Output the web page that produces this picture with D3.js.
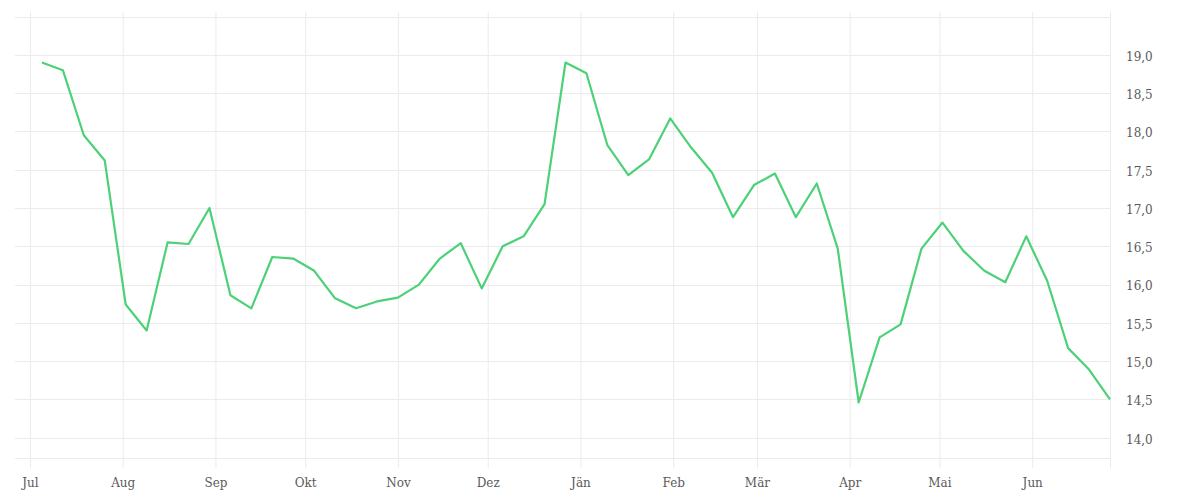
<!DOCTYPE html>
<html>
<head>
<meta charset="utf-8">
<script src="https://cdn.jsdelivr.net/npm/d3@7/dist/d3.min.js"></script>
<style>
  html, body { margin: 0; padding: 0; background: #fff; }
  svg { display: block; }
  .tick text { font-family: "DejaVu Serif", serif; font-size: 12px; fill: #5a5a5a; }
</style>
</head>
<body>
<svg id="chart" width="1200" height="500"></svg>
<script>
// ---- data ----
const startDate = "2024-07-05"; // first weekly observation
const values = [
  18.90, 18.80, 17.95, 17.62, 15.74, 15.40, 16.55, 16.53, 17.00, 15.86,
  15.69, 16.36, 16.34, 16.18, 15.82, 15.69, 15.78, 15.83, 16.00, 16.34,
  16.54, 15.95, 16.50, 16.63, 17.05, 18.90, 18.76, 17.82, 17.43, 17.64,
  18.17, 17.79, 17.46, 16.88, 17.30, 17.45, 16.88, 17.32, 16.47, 14.46,
  15.31, 15.48, 16.47, 16.81, 16.44, 16.18, 16.03, 16.63, 16.05, 15.17,
  14.89, 14.50
];
const monthLabels = ["Jän","Feb","Mär","Apr","Mai","Jun","Jul","Aug","Sep","Okt","Nov","Dez"];
const yTicks = [14.0, 14.5, 15.0, 15.5, 16.0, 16.5, 17.0, 17.5, 18.0, 18.5, 19.0];
const yGrid = [14.0, 14.5, 15.0, 15.5, 16.0, 16.5, 17.0, 17.5, 18.0, 18.5, 19.0, 19.5];
const xDomain = ["2024-06-26", "2025-06-27"];
const yDomain = [13.735, 19.56];

// ---- build ----
const parse = d3.timeParse("%Y-%m-%d");
const t0 = parse(startDate);
const data = values.map((v, i) => ({ date: d3.timeDay.offset(t0, i * 7), value: v }));

const svg = d3.select("#chart");
const mLeft = 15, mRight = 1110, mTop = 12, mBottom = 458;

const x = d3.scaleTime().domain(xDomain.map(parse)).range([mLeft, mRight]);
const y = d3.scaleLinear().domain(yDomain).range([mBottom, mTop]);

const gridColor = "#ebebeb";

// horizontal grid lines
svg.append("g").selectAll("line").data(yGrid).join("line")
  .attr("x1", mLeft).attr("x2", mRight)
  .attr("y1", d => Math.round(y(d)) + 0.5).attr("y2", d => Math.round(y(d)) + 0.5)
  .attr("stroke", gridColor).attr("stroke-width", 1);
// bottom line
svg.append("line")
  .attr("x1", mLeft).attr("x2", mRight)
  .attr("y1", mBottom + 0.5).attr("y2", mBottom + 0.5)
  .attr("stroke", gridColor);

// x axis: vertical gridlines + labels
const xAxis = d3.axisBottom(x)
  .ticks(d3.timeMonth.every(1))
  .tickSize(mBottom + 10 - mTop)
  .tickPadding(9)
  .tickFormat(d => monthLabels[d.getMonth()]);
const gx = svg.append("g").attr("transform", `translate(0,${mTop})`).call(xAxis);
gx.select(".domain").remove();
gx.selectAll(".tick line").attr("stroke", gridColor);
gx.selectAll(".tick text").attr("dy", "0.8em");

// right vertical line
svg.append("line")
  .attr("x1", mRight + 0.5).attr("x2", mRight + 0.5)
  .attr("y1", mTop).attr("y2", mBottom + 10)
  .attr("stroke", gridColor);

// y axis labels on right
const yAxis = d3.axisRight(y)
  .tickValues(yTicks)
  .tickSize(0)
  .tickPadding(16)
  .tickFormat(d => d3.format(".1f")(d).replace(".", ","));
const gy = svg.append("g").attr("transform", `translate(${mRight},0)`).call(yAxis);
gy.select(".domain").remove();
gy.selectAll(".tick text").attr("dy", "0.45em");

// line
const line = d3.line().x(d => x(d.date)).y(d => y(d.value));
svg.append("path").datum(data)
  .attr("fill", "none")
  .attr("stroke", "#4cd178")
  .attr("stroke-width", 2.2)
  .attr("stroke-linejoin", "round")
  .attr("d", line);
</script>
</body>
</html>
